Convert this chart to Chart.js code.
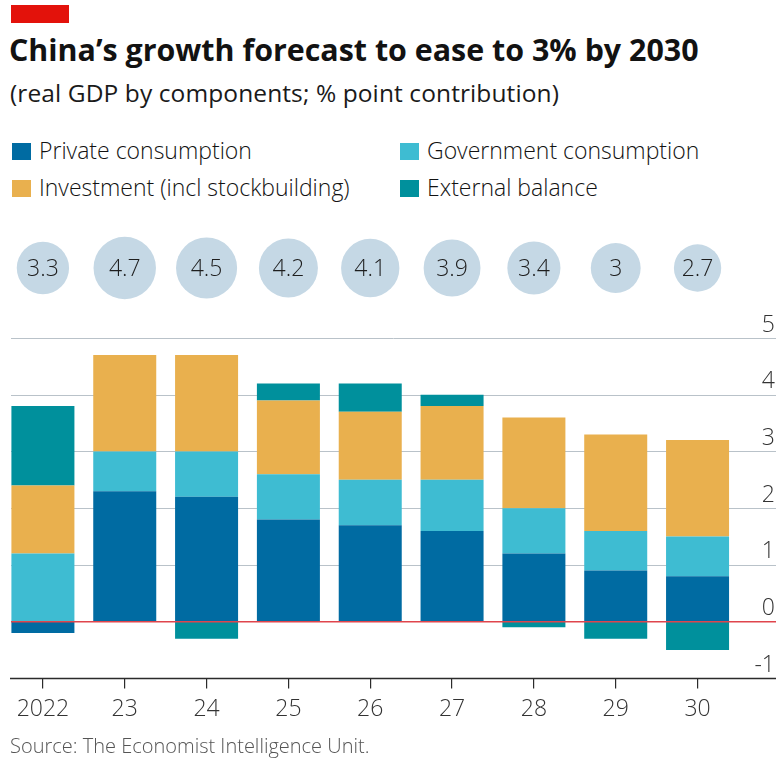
<!DOCTYPE html>
<html>
<head>
<meta charset="utf-8">
<script src="https://cdn.jsdelivr.net/npm/chart.js@4/dist/chart.umd.min.js"></script>
<style>
  body { margin: 0; background: #fff; font-family: "Open Sans", sans-serif; color: #121212; }
  .page { position: relative; width: 781px; height: 761px; overflow: hidden; }
  .tag { position: absolute; left: 11px; top: 5px; width: 58px; height: 18px; background: #e3120b; }
  h1 { position: absolute; left: 9px; top: 32px; margin: 0; font-size: 30.4px; line-height: 36px; font-weight: 700; white-space: nowrap; }
  .sub { position: absolute; left: 10px; top: 78px; font-size: 24.5px; line-height: 30px; font-weight: 400; letter-spacing: 0.1px; white-space: nowrap; color: #1a1a1a; }
  .legend { position: absolute; left: 0; top: 136px; width: 781px; }
  .item { position: absolute; font-size: 23px; line-height: 28px; font-weight: 300; white-space: nowrap; padding-left: 27px; }
  .item span { position: absolute; left: 0; top: 7px; width: 19px; height: 17px; }
  .source { position: absolute; left: 10px; top: 734px; font-size: 20px; line-height: 24px; font-weight: 300; color: #555; white-space: nowrap; }
  #wrap { position: absolute; left: 0; top: 230px; width: 781px; height: 510px; }
</style>
</head>
<body>
<div class="page">
  <div class="tag"></div>
  <h1>China’s growth forecast to ease to 3% by 2030</h1>
  <div class="sub">(real GDP by components; % point contribution)</div>
  <div class="legend" id="legend"></div>
  <div id="wrap"><canvas id="gdpChart"></canvas></div>
  <div class="source">Source: The Economist Intelligence Unit.</div>
</div>
<script>
const years = ['2022', '23', '24', '25', '26', '27', '28', '29', '30'];
const totalGrowth = [3.3, 4.7, 4.5, 4.2, 4.1, 3.9, 3.4, 3, 2.7];
const privateCons = [-0.2, 2.3, 2.2, 1.8, 1.7, 1.6, 1.2, 0.9, 0.8];
const govCons = [1.2, 0.7, 0.8, 0.8, 0.8, 0.9, 0.8, 0.7, 0.7];
const investment = [1.2, 1.7, 1.7, 1.3, 1.2, 1.3, 1.6, 1.7, 1.7];
const externalBal = [1.4, 0, -0.3, 0.3, 0.5, 0.2, -0.1, -0.3, -0.5];

const series = [
  { label: 'Private consumption', data: privateCons, color: '#006ba2' },
  { label: 'Government consumption', data: govCons, color: '#3ebcd2' },
  { label: 'Investment (incl stockbuilding)', data: investment, color: '#e9b04e' },
  { label: 'External balance', data: externalBal, color: '#00909c' }
];

// legend, two columns
const legendEl = document.getElementById('legend');
const legendPos = [[12, 0], [400, 0], [12, 37], [400, 37]];
series.forEach((s, i) => {
  const el = document.createElement('div');
  el.className = 'item';
  el.style.left = legendPos[i][0] + 'px';
  el.style.top = legendPos[i][1] + 'px';
  el.innerHTML = `<span style="background:${s.color}"></span>${s.label}`;
  legendEl.appendChild(el);
});

// gridlines behind the bars, zero line and baseline on top
const gridPlugin = {
  id: 'econGrid',
  beforeDatasetsDraw(chart) {
    const { ctx, scales: { y } } = chart;
    ctx.save();
    ctx.strokeStyle = '#b9c2c9';
    ctx.lineWidth = 1;
    y.ticks.forEach(t => {
      if (t.value === 0 || t.value === y.min) return;
      const py = Math.round(y.getPixelForValue(t.value)) + 0.5;
      ctx.beginPath();
      ctx.moveTo(11, py);
      ctx.lineTo(776, py);
      ctx.stroke();
    });
    ctx.restore();
  },
  afterDatasetsDraw(chart) {
    const { ctx, scales: { y } } = chart;
    ctx.save();
    ctx.strokeStyle = '#e0454c';
    ctx.lineWidth = 1.5;
    let py = y.getPixelForValue(0);
    ctx.beginPath();
    ctx.moveTo(11, py);
    ctx.lineTo(776, py);
    ctx.stroke();
    ctx.strokeStyle = '#2b2b2b';
    ctx.lineWidth = 1.5;
    py = y.getPixelForValue(y.min);
    ctx.beginPath();
    ctx.moveTo(10, py);
    ctx.lineTo(776, py);
    ctx.stroke();
    ctx.restore();
  }
};

// total growth bubbles above each year, area scaled to the value
const bubblePlugin = {
  id: 'totalBubbles',
  afterDraw(chart) {
    const { ctx, chartArea, scales: { x } } = chart;
    const cy = chartArea.top - 70;
    ctx.save();
    totalGrowth.forEach((v, i) => {
      const cx = x.getPixelForValue(i);
      const r = 14.4 * Math.sqrt(v);
      ctx.fillStyle = '#c5d8e5';
      ctx.beginPath();
      ctx.arc(cx, cy, r, 0, Math.PI * 2);
      ctx.fill();
      ctx.fillStyle = '#1e1e1e';
      ctx.font = '300 23px "Open Sans"';
      ctx.textAlign = 'center';
      ctx.textBaseline = 'middle';
      ctx.fillText(String(v), cx, cy + 1);
    });
    ctx.restore();
  }
};

new Chart(document.getElementById('gdpChart'), {
  type: 'bar',
  data: {
    labels: years,
    datasets: series.map(s => ({
      label: s.label,
      data: s.data,
      backgroundColor: s.color,
      borderWidth: 0,
      barPercentage: 1,
      categoryPercentage: 0.77
    }))
  },
  options: {
    responsive: true,
    maintainAspectRatio: false,
    animation: false,
    layout: { padding: { top: 108, left: 2, right: 6, bottom: 10 } },
    plugins: { legend: { display: false }, tooltip: { enabled: false } },
    scales: {
      x: {
        stacked: true,
        border: { display: false },
        grid: { offset: false, drawOnChartArea: false, drawTicks: true, tickLength: 10, color: '#2b2b2b', lineWidth: 1.2 },
        ticks: { color: '#333', padding: 7, font: { family: 'Open Sans', size: 23, weight: 300 } }
      },
      y: {
        stacked: true,
        position: 'right',
        min: -1,
        max: 5,
        border: { display: false },
        grid: { display: false, drawTicks: false },
        ticks: {
          stepSize: 1,
          crossAlign: 'far',
          padding: 8,
          labelOffset: -13,
          color: '#333',
          font: { family: 'Open Sans', size: 23, weight: 300 }
        }
      }
    }
  },
  plugins: [gridPlugin, bubblePlugin]
});
</script>
</body>
</html>
